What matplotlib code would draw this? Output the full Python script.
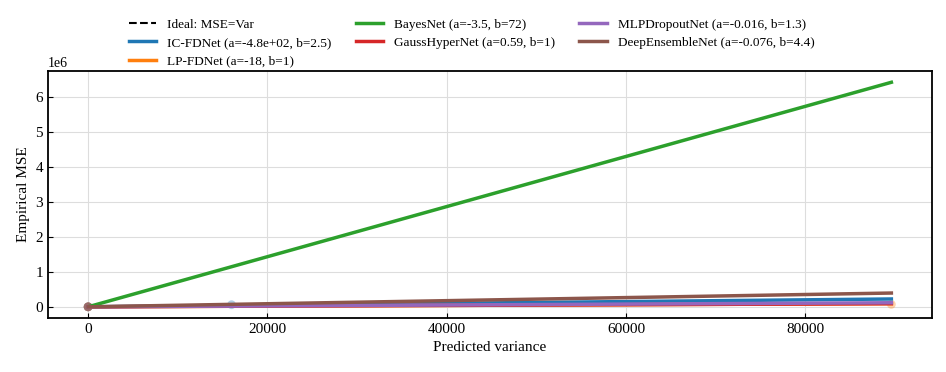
import matplotlib
matplotlib.use("Agg")
import matplotlib.pyplot as plt
import numpy as np

plt.rcParams['font.family'] = ['Liberation Serif', 'DejaVu Serif']

models = ["IC-FDNet", "LP-FDNet", "BayesNet", "GaussHyperNet", "MLPDropoutNet", "DeepEnsembleNet"]
labels = ["IC-FDNet (a=-4.8e+02, b=2.5)", "LP-FDNet (a=-18, b=1)", "BayesNet (a=-3.5, b=72)",
          "GaussHyperNet (a=0.59, b=1)", "MLPDropoutNet (a=-0.016, b=1.3)", "DeepEnsembleNet (a=-0.076, b=4.4)"]
colors = ["#1f77b4", "#ff7f0e", "#2ca02c", "#d62728", "#9467bd", "#8c564b"]

# fitted-line endpoints (predicted variance, empirical MSE)
x_start = [0, 0, 0, 0, 0, 0]
x_end = [89600, 89600, 89600, 89600, 89600, 89600]
y_start = [-480, -18, -3.5, 0.59, -0.016, -0.076]
y_end = [224000, 89600, 6420000, 89600, 116500, 394000]

# faint binned points
pts_x = [[0, 16000], [0, 89600], [0], [0], [0], [0]]
pts_y = [[0, 60000], [0, 70000], [0], [0], [0], [0]]

ideal_x = [0, 89600]
ideal_y = [0, 89600]

fig = plt.figure(figsize=(9.46, 3.72), dpi=100)
ax = fig.add_axes([0.0507, 0.145, 0.934, 0.664])

ax.plot(ideal_x, ideal_y, 'k--', lw=1.5, label="Ideal: MSE=Var", zorder=2)
for i in range(len(models)):
    ax.scatter(pts_x[i], pts_y[i], s=40, color=colors[i], alpha=0.35, edgecolors='none', zorder=2)
    ax.plot([x_start[i], x_end[i]], [y_start[i], y_end[i]], color=colors[i], lw=2.5,
            label=labels[i], zorder=3)

ax.set_xlabel("Predicted variance", fontsize=11)
ax.set_ylabel("Empirical MSE", fontsize=11)
ax.tick_params(direction='in', labelsize=11)
ax.grid(True, color='#dddddd', lw=0.8)
ax.set_xticks([0, 20000, 40000, 60000, 80000])
for s in ax.spines.values():
    s.set_linewidth(1.3)

handles, labs = ax.get_legend_handles_labels()
fig.legend(handles, labs, loc='upper center', bbox_to_anchor=(0.4985, 0.982), ncol=3,
           frameon=False, fontsize=9.5, handlelength=2.1, handletextpad=0.8,
           columnspacing=1.85, labelspacing=0.45)

fig.savefig("out.png", dpi=100)
